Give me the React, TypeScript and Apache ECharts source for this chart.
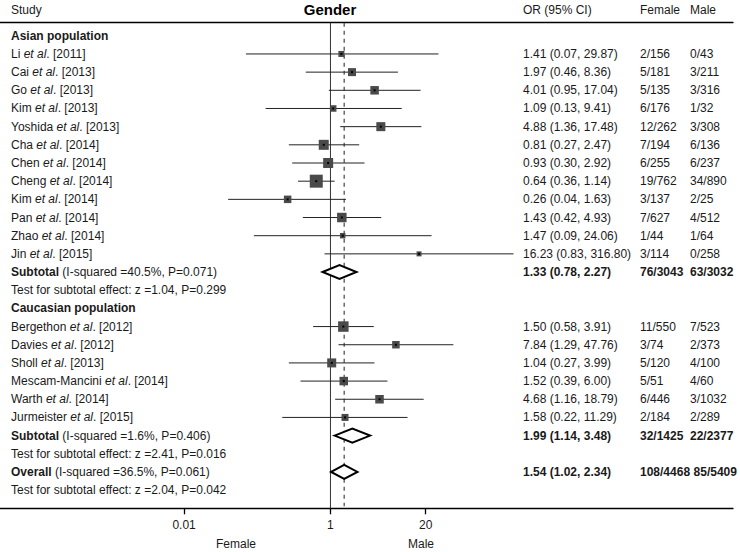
import React, { useEffect, useRef } from "react";
import * as echarts from "echarts";

// ---------- data ----------
const chartTitle = "Gender";
const columnHeaders = ["Study", "OR (95% CI)", "Female", "Male"];
const groupNames = ["Asian population", "Caucasian population"];

const studyAuthors = ["Li", "Cai", "Go", "Kim", "Yoshida", "Cha", "Chen", "Cheng", "Kim", "Pan", "Zhao", "Jin", "Bergethon", "Davies", "Sholl", "Mescam-Mancini", "Warth", "Jurmeister"];
const studyYears = [2011, 2013, 2013, 2013, 2013, 2014, 2014, 2014, 2014, 2014, 2014, 2015, 2012, 2012, 2013, 2014, 2014, 2015];
const studyGroup = [0, 0, 0, 0, 0, 0, 0, 0, 0, 0, 0, 0, 1, 1, 1, 1, 1, 1];
const studyOR = [1.41, 1.97, 4.01, 1.09, 4.88, 0.81, 0.93, 0.64, 0.26, 1.43, 1.47, 16.23, 1.5, 7.84, 1.04, 1.52, 4.68, 1.58];
const studyLow = [0.07, 0.46, 0.95, 0.13, 1.36, 0.27, 0.3, 0.36, 0.04, 0.42, 0.09, 0.83, 0.58, 1.29, 0.27, 0.39, 1.16, 0.22];
const studyHigh = [29.87, 8.36, 17.04, 9.41, 17.48, 2.47, 2.92, 1.14, 1.63, 4.93, 24.06, 316.8, 3.91, 47.76, 3.99, 6.0, 18.79, 11.29];
const studyFemale = ["2/156", "5/181", "5/135", "6/176", "12/262", "7/194", "6/255", "19/762", "3/137", "7/627", "1/44", "3/114", "11/550", "3/74", "5/120", "5/51", "6/446", "2/184"];
const studyMale = ["0/43", "3/211", "3/316", "1/32", "3/308", "6/136", "6/237", "34/890", "2/25", "4/512", "1/64", "0/258", "7/523", "2/373", "4/100", "4/60", "3/1032", "2/289"];
const studyWeight = [5.8, 10.2, 11.6, 6.8, 13, 16, 16, 27, 9, 14.4, 4.8, 4, 17.6, 9, 13, 11.6, 11.6, 7.8];

const summaryNames = ["Subtotal", "Subtotal", "Overall"];
const summaryOR = [1.33, 1.99, 1.54];
const summaryLow = [0.78, 1.14, 1.02];
const summaryHigh = [2.27, 3.48, 2.34];
const summaryFemale = ["76/3043", "32/1425", "108/4468"];
const summaryMale = ["63/3032", "22/2377", "85/5409"];
const summaryISq = ["40.5%", "1.6%", "36.5%"];
const summaryHetP = ["0.071", "0.406", "0.061"];
const summaryZ = ["1.04", "2.41", "2.04"];
const summaryP = ["0.299", "0.016", "0.042"];

const tickValues = [0.01, 1, 20];
const tickLabels = ["0.01", "1", "20"];
const axisTitles = ["Female", "Male"];

// ---------- layout / style ----------
const FONT = "'Liberation Sans', Arial, Helvetica, sans-serif";
const TEXT_COLOR = "#1a1a1a";
const FS = 12;
const X_MIN = -4.515;
const X_MAX = 5.5;
const Y_MIN = -0.72;
const Y_MAX = 26;
const COL_X = [11, 523, 640, 690];

type Row = { kind: "group" | "study" | "summary" | "test"; idx: number };
const rows: Row[] = [];
groupNames.forEach((_, gi) => {
  rows.push({ kind: "group", idx: gi });
  studyAuthors.forEach((_, i) => {
    if (studyGroup[i] === gi) rows.push({ kind: "study", idx: i });
  });
  rows.push({ kind: "summary", idx: gi });
  rows.push({ kind: "test", idx: gi });
});
rows.push({ kind: "summary", idx: 2 });
rows.push({ kind: "test", idx: 2 });

const fmt = (v: number) => v.toFixed(2);
const ciText = (o: number, l: number, h: number) => `${fmt(o)} (${fmt(l)}, ${fmt(h)})`;

function rowTexts(r: Row) {
  if (r.kind === "group") return { label: `{b|${groupNames[r.idx]}}`, or: "", f: "", m: "", bold: false };
  if (r.kind === "study") {
    const i = r.idx;
    return {
      label: `${studyAuthors[i]} {i|et al}. [${studyYears[i]}]`,
      or: ciText(studyOR[i], studyLow[i], studyHigh[i]),
      f: studyFemale[i],
      m: studyMale[i],
      bold: false,
    };
  }
  if (r.kind === "summary") {
    const i = r.idx;
    return {
      label: `{b|${summaryNames[i]}} (I-squared =${summaryISq[i]}, P=${summaryHetP[i]})`,
      or: ciText(summaryOR[i], summaryLow[i], summaryHigh[i]),
      f: summaryFemale[i],
      m: summaryMale[i],
      bold: true,
    };
  }
  const i = r.idx;
  return { label: `Test for subtotal effect: z =${summaryZ[i]}, P=${summaryP[i]}`, or: "", f: "", m: "", bold: false };
}

const studyData: number[][] = [];
const summaryData: number[][] = [];
rows.forEach((r, ri) => {
  if (r.kind === "study") {
    const i = r.idx;
    studyData.push([Math.log10(studyOR[i]), ri, Math.log10(studyLow[i]), Math.log10(studyHigh[i]), studyWeight[i]]);
  } else if (r.kind === "summary") {
    const i = r.idx;
    summaryData.push([Math.log10(summaryOR[i]), ri, Math.log10(summaryLow[i]), Math.log10(summaryHigh[i])]);
  }
});

const tickLogs = tickValues.map((v) => Math.log10(v));

let measureCtx: CanvasRenderingContext2D | null = null;
function textWidth(s: string, bold: boolean) {
  if (!measureCtx) measureCtx = document.createElement("canvas").getContext("2d");
  if (!measureCtx) return s.length * 6.7;
  measureCtx.font = `${bold ? "bold " : ""}${FS}px ${FONT}`;
  return measureCtx.measureText(s).width;
}

export default function App() {
  const ref = useRef<HTMLDivElement>(null);
  useEffect(() => {
    if (!ref.current) return;
    const chart = echarts.init(ref.current, undefined, { renderer: "svg" });
    const baseText = { fontFamily: FONT, fontSize: FS, fill: TEXT_COLOR };

    const option: any = {
      animation: false,
      backgroundColor: "#ffffff",
      grid: { left: 0, right: 7, top: 22.7, bottom: 43.7 },
      xAxis: [
        {
          type: "value",
          min: X_MIN,
          max: X_MAX,
          position: "bottom",
          splitLine: { show: false },
          axisLine: { show: true, onZero: false, lineStyle: { color: "#000", width: 1.3 } },
          axisTick: { show: true, customValues: tickLogs, length: 6, lineStyle: { color: "#000", width: 1.3 } },
          axisLabel: {
            show: true,
            customValues: tickLogs,
            margin: 11,
            fontFamily: FONT,
            fontSize: FS,
            color: TEXT_COLOR,
            formatter: (v: number) => {
              const k = tickLogs.findIndex((t) => Math.abs(t - v) < 1e-6);
              return k >= 0 ? tickLabels[k] : "";
            },
          },
        },
        {
          type: "value",
          min: X_MIN,
          max: X_MAX,
          position: "top",
          splitLine: { show: false },
          axisLine: { show: true, onZero: false, lineStyle: { color: "#000", width: 1.3 } },
          axisTick: { show: false },
          axisLabel: { show: false },
        },
      ],
      yAxis: { type: "value", inverse: true, min: Y_MIN, max: Y_MAX, show: false },
      graphic: [
        { type: "text", x: 330, y: 9, style: { text: chartTitle, align: "center", verticalAlign: "middle", fontFamily: FONT, fontSize: 15, fontWeight: "bold", fill: "#000" } },
        ...columnHeaders.map((h, k) => ({
          type: "text",
          x: COL_X[k],
          y: 10,
          style: { ...baseText, text: h, verticalAlign: "middle" },
        })),
        { type: "text", x: 236, y: 544, style: { ...baseText, text: axisTitles[0], align: "center", verticalAlign: "middle" } },
        { type: "text", x: 421, y: 544, style: { ...baseText, text: axisTitles[1], align: "center", verticalAlign: "middle" } },
      ],
      series: [
        {
          type: "custom",
          name: "reference lines",
          z: 1,
          silent: true,
          data: [[0, 0], [Math.log10(summaryOR[2]), 1]],
          renderItem: (params: any, api: any) => {
            const x = api.value(0);
            const top = api.coord([x, Y_MIN]);
            const bot = api.coord([x, Y_MAX]);
            const dashed = api.value(1) === 1;
            return {
              type: "line",
              shape: { x1: top[0], y1: top[1], x2: bot[0], y2: dashed ? bot[1] - 2 : bot[1] },
              style: dashed
                ? { stroke: "#444", lineWidth: 1.2, lineDash: [4, 4] }
                : { stroke: "#333", lineWidth: 1 },
            };
          },
        },
        {
          type: "custom",
          name: "studies",
          z: 3,
          silent: true,
          data: studyData,
          renderItem: (params: any, api: any) => {
            const y = api.value(1);
            const c = api.coord([api.value(0), y]);
            const l = api.coord([api.value(2), y]);
            const h = api.coord([api.value(3), y]);
            const s = 2.5 * Math.sqrt(api.value(4));
            return {
              type: "group",
              children: [
                { type: "line", shape: { x1: l[0], y1: c[1], x2: h[0], y2: c[1] }, style: { stroke: "#222", lineWidth: 1 } },
                { type: "rect", shape: { x: c[0] - s / 2, y: c[1] - s / 2, width: s, height: s }, style: { fill: "#4a4a4a" } },
                { type: "rect", shape: { x: c[0] - 1, y: c[1] - 1, width: 2, height: 2 }, style: { fill: "#000" } },
              ],
            };
          },
        },
        {
          type: "custom",
          name: "summaries",
          z: 4,
          silent: true,
          data: summaryData,
          renderItem: (params: any, api: any) => {
            const y = api.value(1);
            const c = api.coord([api.value(0), y]);
            const l = api.coord([api.value(2), y]);
            const h = api.coord([api.value(3), y]);
            return {
              type: "polygon",
              shape: { points: [[l[0], c[1]], [c[0], c[1] - 7], [h[0], c[1]], [c[0], c[1] + 7]] },
              style: { fill: "#fff", stroke: "#000", lineWidth: 2 },
            };
          },
        },
        {
          type: "custom",
          name: "table",
          z: 5,
          silent: true,
          data: rows.map((_, i) => [0, i]),
          renderItem: (params: any, api: any) => {
            const r = rows[params.dataIndex];
            const t = rowTexts(r);
            const y = api.coord([0, api.value(1)])[1];
            const weight = t.bold ? "bold" : "normal";
            const children: any[] = [
              {
                type: "text",
                x: COL_X[0],
                y,
                style: {
                  ...baseText,
                  text: t.label,
                  verticalAlign: "middle",
                  rich: {
                    b: { fontFamily: FONT, fontSize: FS, fontWeight: "bold", color: TEXT_COLOR },
                    i: { fontFamily: FONT, fontSize: FS, fontStyle: "italic", color: TEXT_COLOR },
                  },
                },
              },
            ];
            const xs = [COL_X[1], COL_X[2], COL_X[3]];
            if (t.f) xs[2] = Math.max(COL_X[3], COL_X[2] + textWidth(t.f, t.bold) + 3.5);
            [t.or, t.f, t.m].forEach((s, k) => {
              if (s) children.push({ type: "text", x: xs[k], y, style: { ...baseText, text: s, fontWeight: weight, verticalAlign: "middle" } });
            });
            return { type: "group", children };
          },
        },
      ],
    };
    chart.setOption(option);
    return () => chart.dispose();
  }, []);
  return <div ref={ref} style={{ position: "absolute", left: 0, top: 0, width: 740, height: 552 }} />;
}
